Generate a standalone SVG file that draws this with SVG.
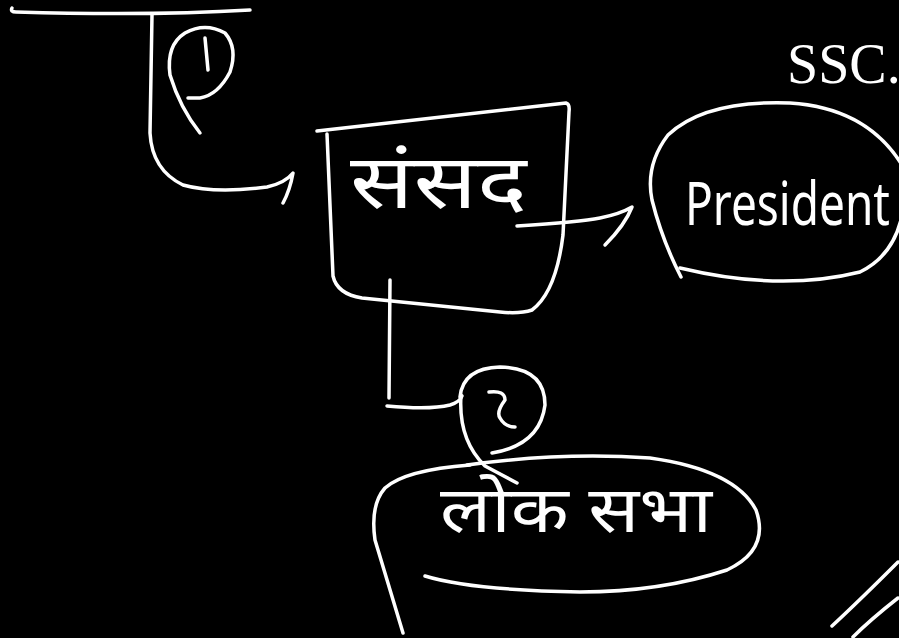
<svg xmlns="http://www.w3.org/2000/svg" width="899" height="638" viewBox="0 0 899 638">
<style>
.s{fill:none;stroke:#fff;stroke-width:3.5;stroke-linecap:round;stroke-linejoin:round}
.h{fill:#fff;font-family:"Noto Sans Devanagari","Lohit Devanagari","Noto Sans","DejaVu Sans",sans-serif}
.p{fill:#fff;font-family:"Liberation Serif","Times New Roman",serif}
</style>
<rect width="899" height="638" fill="#000"/>
<g id="connectors">
<path class="s" d="M12,8 Q10,12 16,12 Q150,16 250,10"/>
<path class="s" d="M152,15 L150,133 Q152,170 183,185 Q215,194 267,187 Q285,183 293,173 Q290,190 283,203"/>
<path class="s" d="M517,226 Q580,222 600,218 Q620,214 632,207 Q625,225 605,245"/>
<path class="s" d="M390,280 L389,398"/>
<path class="s" d="M387,406 Q430,410 450,405 Q460,402 462,396"/>
<path class="s" d="M461,395 Q458,440 485,466 L517,483"/>
</g>
<g id="marker1">
<path class="s" d="M200,133 Q180,108 170,75 Q166,45 185,33 Q205,22 225,33 Q238,48 230,72 Q218,95 200,98 L188,98"/>
<path class="s" d="M205,38 L208,70"/>
</g>
<g id="sansad">
<path class="s" d="M317,131 L566,103 Q570,104 569,112 L563,235 Q556,292 532,310 Q520,314 500,312 L362,298 Q337,294 333,276 L327,134"/>
<text class="h" x="350" y="208" font-size="76" textLength="177" lengthAdjust="spacingAndGlyphs">संसद</text>
</g>
<g id="president">
<path class="s" d="M680,268 Q780,292 860,272 Q905,250 905,185"/>
<path class="s" d="M905,170 Q870,108 790,103 Q705,100 668,135 Q645,165 652,200 Q662,240 681,277"/>
<text class="h" x="685" y="173" font-size="46" transform="scale(1,1.3)">President</text>
</g>
<g id="marker2">
<path class="s" d="M460,397 Q463,368 500,367 Q545,368 545,405 Q540,445 492,453"/>
<path class="s" d="M489,392 Q505,390 505,400 Q496,412 500,418 Q505,427 515,427"/>
</g>
<g id="loksabha">
<path class="s" d="M470,465 Q405,470 385,488 Q370,505 375,540 Q390,590 403,633"/>
<path class="s" d="M467,465 Q560,452 650,458 Q735,470 756,510 Q770,550 727,570 Q660,592 580,592 Q470,590 425,576"/>
<text class="h" x="440" y="532" font-size="64" textLength="272" lengthAdjust="spacingAndGlyphs">लोक सभा</text>
</g>
<g id="title">
<text class="p" x="787" y="83" font-size="56">SSC.</text>
</g>
<g id="strokes">
<path class="s" d="M898,562 Q860,600 832,626"/>
<path class="s" d="M898,598 Q870,620 853,637"/>
</g>
</svg>
